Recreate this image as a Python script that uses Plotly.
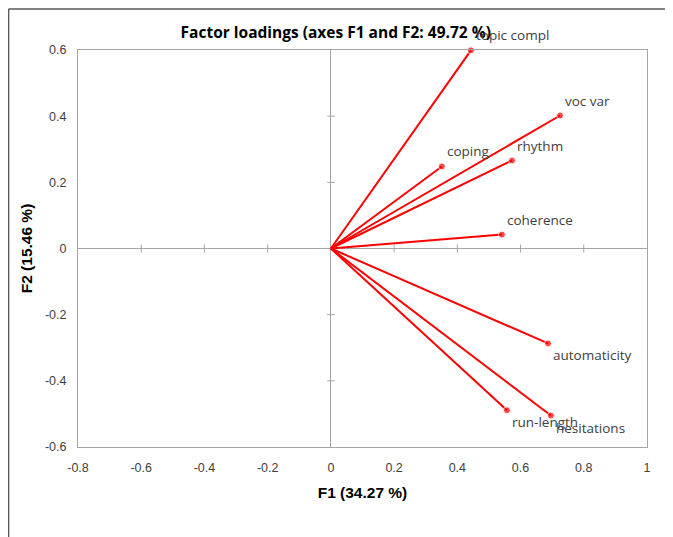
import plotly.graph_objects as go

variables = ["topic compl", "voc var", "rhythm", "coping", "coherence",
             "automaticity", "run-length", "hesitations"]
f1 = [0.443, 0.725, 0.573, 0.351, 0.541, 0.687, 0.557, 0.696]
f2 = [0.599, 0.402, 0.266, 0.248, 0.042, -0.287, -0.489, -0.505]

x_ticks = [-0.8, -0.6, -0.4, -0.2, 0, 0.2, 0.4, 0.6, 0.8, 1]
y_ticks = [-0.6, -0.4, -0.2, 0, 0.2, 0.4, 0.6]

RED = "#FF0000"
GRID = "#A6A6A6"

fig = go.Figure()
for name, x, y in zip(variables, f1, f2):
    fig.add_trace(go.Scatter(
        x=[0, x], y=[0, y], mode="lines+markers",
        line=dict(color=RED, width=2),
        marker=dict(color=RED, size=[0, 7]),
        cliponaxis=False,
        showlegend=False, hoverinfo="skip"))

for name, x, y in zip(variables, f1, f2):
    fig.add_annotation(
        x=x, y=y, text=name, showarrow=False,
        xanchor="left", yanchor="middle",
        xshift=3, yshift=15 if y >= 0 else -12,
        font=dict(family="Open Sans", size=13.5, color="#404040"))

shapes = []
# crossing tick marks on the zero lines
for t in x_ticks:
    if t in (0, -0.8, 1):
        continue
    shapes.append(dict(type="line", xref="x", yref="y", x0=t, x1=t,
                       y0=-0.012, y1=0.012, line=dict(color=GRID, width=1)))
for t in y_ticks:
    if t in (0, -0.6, 0.6):
        continue
    shapes.append(dict(type="line", xref="x", yref="y", x0=-0.012, x1=0.012,
                       y0=t, y1=t, line=dict(color=GRID, width=1)))
# outer chart frame (left and top edges)
shapes.append(dict(type="line", xref="paper", yref="paper", x0=-0.122, x1=-0.122,
                   y0=-0.25, y1=1.103, line=dict(color="#595959", width=1.5)))
shapes.append(dict(type="line", xref="paper", yref="paper", x0=-0.122, x1=1.1,
                   y0=1.103, y1=1.103, line=dict(color="#595959", width=1.5)))

tickfont = dict(family="Liberation Sans", size=12.5, color="#404040")
fig.update_layout(
    width=673, height=537,
    margin=dict(l=70, r=34, t=42, b=98),
    paper_bgcolor="white", plot_bgcolor="white",
    title=dict(text="<b>Factor loadings (axes F1 and F2: 49.72 %)</b>",
               x=0.487, xref="container", y=1 - 25 / 537, yanchor="middle",
               font=dict(family="Open Sans", size=15.5, color="#000000")),
    shapes=shapes,
    xaxis=dict(range=[-0.8, 1], tickvals=x_ticks,
               ticktext=[f"{t:g}" for t in x_ticks],
               showgrid=False, zeroline=True, zerolinecolor=GRID, zerolinewidth=1,
               showline=True, mirror=True, linecolor=GRID, linewidth=1,
               ticks="outside", ticklen=9, tickcolor="rgba(0,0,0,0)",
               tickfont=tickfont,
               title=dict(text="<b>F1 (34.27 %)</b>", standoff=13,
                          font=dict(family="Liberation Sans", size=15.5, color="#000000"))),
    yaxis=dict(range=[-0.6, 0.6], tickvals=y_ticks,
               ticktext=[f"{t:g}" for t in y_ticks],
               showgrid=False, zeroline=True, zerolinecolor=GRID, zerolinewidth=1,
               showline=True, mirror=True, linecolor=GRID, linewidth=1,
               ticks="outside", ticklen=8, tickcolor="rgba(0,0,0,0)",
               tickfont=tickfont,
               title=dict(text="<b>F2 (15.46 %)</b>", standoff=8,
                          font=dict(family="Liberation Sans", size=15.5, color="#000000"))),
)

fig.write_html("out.html")
